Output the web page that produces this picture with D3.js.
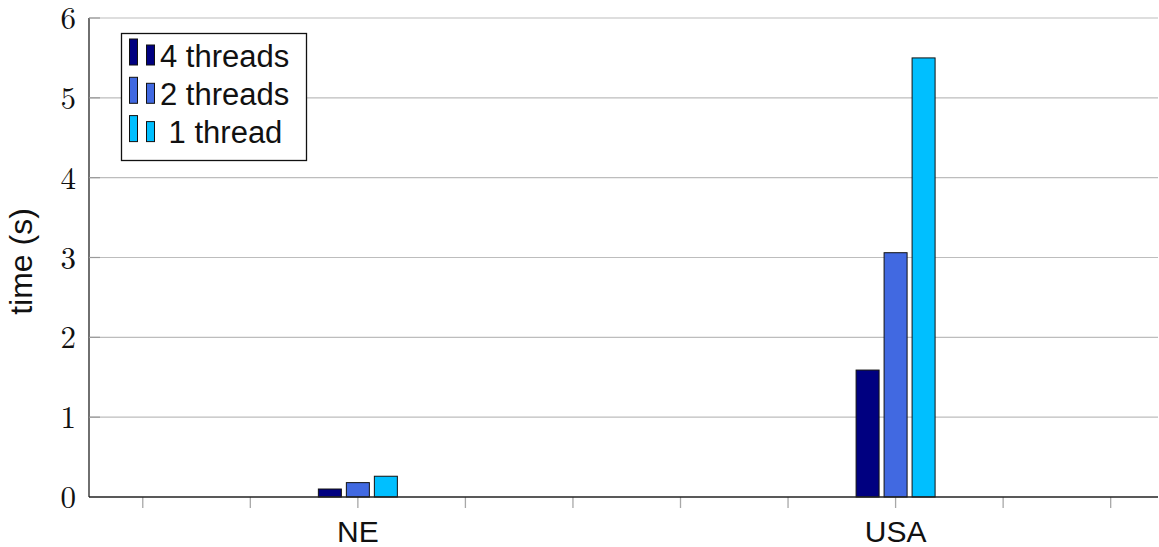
<!DOCTYPE html>
<html>
<head>
<meta charset="utf-8">
<script src="https://cdn.jsdelivr.net/npm/d3@7"></script>
<style>
  html, body { margin: 0; padding: 0; background: #fff; }
  svg { display: block; }
  .sans { font-family: "Liberation Sans", Arial, sans-serif; }
  .serif { font-family: "Latin Modern Roman", "Liberation Serif", "DejaVu Serif", serif; }
</style>
</head>
<body>
<div id="chart"></div>
<script>
// Run time per region and thread count.
const CATEGORIES = ["NE", "USA"];
const CATEGORY_TICK = [3, 8];          // tick slot each category sits on
const TICK_SLOTS = [1, 2, 3, 4, 5, 6, 7, 8, 9, 10];
const SERIES = ["4 threads", "2 threads", " 1 thread"];
const SERIES_COLORS = ["#000080", "#4169e1", "#00bfff"];
const TIMES = [
  [0.10, 1.59],   // 4 threads
  [0.18, 3.06],   // 2 threads
  [0.26, 5.50],   // 1 thread
];
const Y_TICKS = [0, 1, 2, 3, 4, 5, 6];

const width = 1159;
const height = 547;
const margin = { top: 18, right: 1, bottom: 50, left: 89 };

const svg = d3.select("#chart").append("svg")
  .attr("width", width)
  .attr("height", height);

const x = d3.scaleLinear()
  .domain([0.5, 10.44])
  .range([margin.left, width - margin.right]);

const y = d3.scaleLinear()
  .domain([0, 6])
  .range([height - margin.bottom, margin.top]);

// offsets of the three bars inside a group, in tick-slot units
const barStep = 28 / (x(2) - x(1));
const barWidth = 23;

// ---- grid ----
svg.append("g")
  .selectAll("line")
  .data(Y_TICKS.slice(1))
  .join("line")
  .attr("x1", margin.left)
  .attr("x2", width - margin.right)
  .attr("y1", (d) => y(d))
  .attr("y2", (d) => y(d))
  .attr("stroke", "#bdbdbd")
  .attr("stroke-width", 1.2);

// ---- x ticks (below the axis) ----
svg.append("g")
  .selectAll("line")
  .data(TICK_SLOTS)
  .join("line")
  .attr("x1", (d) => x(d))
  .attr("x2", (d) => x(d))
  .attr("y1", y(0))
  .attr("y2", y(0) + 11)
  .attr("stroke", "#a8a8a8")
  .attr("stroke-width", 1.3);

// ---- bars ----
SERIES.forEach((name, s) => {
  svg.append("g")
    .selectAll("rect")
    .data(TIMES[s])
    .join("rect")
    .attr("x", (d, i) => x(CATEGORY_TICK[i] + (s - 1) * barStep) - barWidth / 2)
    .attr("width", barWidth)
    .attr("y", (d) => y(d))
    .attr("height", (d) => y(0) - y(d))
    .attr("fill", SERIES_COLORS[s])
    .attr("stroke", "#111")
    .attr("stroke-width", 1);
});

// ---- axis lines ----
svg.append("line")
  .attr("x1", margin.left).attr("x2", margin.left)
  .attr("y1", y(6)).attr("y2", y(0))
  .attr("stroke", "#222").attr("stroke-width", 1.3);
svg.append("line")
  .attr("x1", margin.left).attr("x2", width - margin.right)
  .attr("y1", y(0)).attr("y2", y(0))
  .attr("stroke", "#222").attr("stroke-width", 1.3);
// short inner y ticks
svg.append("g")
  .selectAll("line")
  .data(Y_TICKS.slice(1))
  .join("line")
  .attr("x1", margin.left)
  .attr("x2", margin.left + 11)
  .attr("y1", (d) => y(d))
  .attr("y2", (d) => y(d))
  .attr("stroke", "#9a9a9a")
  .attr("stroke-width", 1.2);

// ---- y tick labels ----
svg.append("g")
  .selectAll("text")
  .data(Y_TICKS)
  .join("text")
  .attr("class", "serif")
  .attr("x", margin.left - 13)
  .attr("y", (d) => y(d) + 11)
  .attr("text-anchor", "end")
  .attr("font-size", 31)
  .attr("fill", "#111")
  .text((d) => d);

// ---- x category labels ----
svg.append("g")
  .selectAll("text")
  .data(CATEGORIES)
  .join("text")
  .attr("class", "sans")
  .attr("x", (d, i) => x(CATEGORY_TICK[i]))
  .attr("y", 542)
  .attr("text-anchor", "middle")
  .attr("font-size", 30)
  .attr("fill", "#111")
  .text((d) => d);

// ---- y axis title ----
svg.append("text")
  .attr("class", "sans")
  .attr("transform", `translate(32, ${(margin.top + y(0)) / 2 + 4}) rotate(-90)`)
  .attr("text-anchor", "middle")
  .attr("font-size", 32)
  .attr("fill", "#111")
  .text("time (s)");

// ---- legend ----
const legend = svg.append("g");
legend.append("rect")
  .attr("x", 121.5).attr("y", 33.5)
  .attr("width", 185).attr("height", 127)
  .attr("fill", "#fff")
  .attr("stroke", "#111")
  .attr("stroke-width", 1.3);

SERIES.forEach((name, s) => {
  const base = 66.5 + s * 38.3;
  const g = legend.append("g");
  g.append("rect")
    .attr("x", 129.5).attr("y", base - 27.5)
    .attr("width", 8).attr("height", 26)
    .attr("fill", SERIES_COLORS[s]).attr("stroke", "#111").attr("stroke-width", 1);
  g.append("rect")
    .attr("x", 146.5).attr("y", base - 21.5)
    .attr("width", 8).attr("height", 20)
    .attr("fill", SERIES_COLORS[s]).attr("stroke", "#111").attr("stroke-width", 1);
  g.append("text")
    .attr("class", "sans")
    .attr("x", 160)
    .attr("y", base)
    .attr("font-size", 31)
    .attr("fill", "#111")
    .style("white-space", "pre")
    .text(name);
});
</script>
</body>
</html>
